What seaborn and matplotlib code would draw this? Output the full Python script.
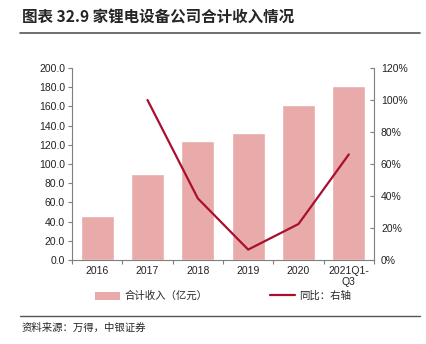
import numpy as np
import pandas as pd
import matplotlib
matplotlib.use("Agg")
import matplotlib.pyplot as plt
from matplotlib.lines import Line2D
from matplotlib.patches import Patch
from matplotlib.ticker import FuncFormatter, FixedLocator
import seaborn as sns

categories = ["2016", "2017", "2018", "2019", "2020", "2021Q1-\nQ3"]
revenue = [45.5, 89.5, 124.0, 132.0, 161.0, 181.5]
yoy = [np.nan, 1.00, 0.385, 0.065, 0.225, 0.66]

bar_color = "#E9AAAA"
line_color = "#A8102E"

sns.set_theme(style="white")
plt.rcParams["font.family"] = ["Liberation Sans", "Noto Sans CJK SC", "DejaVu Sans"]

fig = plt.figure(figsize=(4.27, 3.44), dpi=100)
ax = fig.add_axes([72/427, 1-260/344, (374-72)/427, (260-68)/344])

df = pd.DataFrame({"cat": categories, "rev": revenue, "yoy": yoy, "pos": np.arange(len(categories))})
sns.barplot(data=df, x="cat", y="rev", color=bar_color, saturation=1, width=0.66, ax=ax)
ax.set_xlim(-0.5, len(categories) - 0.5)
ax.set_ylim(0, 200)
ax.set_yticks(np.arange(0, 201, 20))
ax.yaxis.set_major_formatter(FuncFormatter(lambda v, p: f"{v:.1f}"))
ax.set_xlabel("")
ax.set_ylabel("")

ax2 = ax.twinx()
sns.lineplot(data=df.dropna(), x="pos", y="yoy", color=line_color, linewidth=1.6, ax=ax2)
ax2.set_ylim(0, 1.2)
ax2.set_yticks(np.arange(0, 1.21, 0.2))
ax2.yaxis.set_major_formatter(FuncFormatter(lambda v, p: f"{v*100:.0f}%"))
ax2.set_ylabel("")
ax2.set_xlabel("")
ax2.set_xlim(-0.5, len(categories) - 0.5)

spine_color = "#7f7f7f"
for a in (ax, ax2):
    for s in a.spines.values():
        s.set_color(spine_color)
        s.set_linewidth(0.8)
    a.spines["top"].set_visible(False)
ax.spines["right"].set_visible(False)
ax2.spines["left"].set_visible(False)
ax2.spines["bottom"].set_visible(False)

ax.tick_params(axis="y", direction="out", length=3, width=0.8, color=spine_color,
               labelsize=7.5, pad=2, left=True, labelcolor="#222222")
ax2.tick_params(axis="y", direction="in", length=3, width=0.8, color=spine_color,
                labelsize=7.5, pad=5, right=True, labelcolor="#222222")
ax.tick_params(axis="x", length=0, labelsize=7.5, pad=4, labelcolor="#222222")
ax.xaxis.set_minor_locator(FixedLocator(np.arange(-0.5, len(categories), 1.0)))
ax.tick_params(axis="x", which="minor", direction="out", length=3, width=0.8,
               color=spine_color, bottom=True)
for lbl in ax.get_xticklabels():
    lbl.set_linespacing(1.15)

# legend
handles = [Patch(facecolor=bar_color, edgecolor="none"),
           Line2D([0], [0], color=line_color, linewidth=1.6)]
labels = ["合计收入（亿元）", "同比：右轴"]
fig.legend(handles, labels, loc="center left", bbox_to_anchor=(90/427, 1-296/344),
           ncol=2, frameon=False, handlelength=2.4, handleheight=0.8,
           handletextpad=0.4, columnspacing=6.0, borderpad=0,
           prop={"family": ["Noto Sans CJK SC"], "size": 7.5})

# title and rules
fig.text(22/427, 1-18/344, "图表 32.9 家锂电设备公司合计收入情况", fontsize=11.2,
         fontweight="bold", va="center", ha="left",
         family=["Noto Sans CJK SC"])
fig.add_artist(Line2D([20/427, 420/427], [1-33/344, 1-33/344], color="#555555", linewidth=1.2))
fig.add_artist(Line2D([20/427, 420/427], [1-316/344, 1-316/344], color="#555555", linewidth=1.0))
fig.text(22/427, 1-328/344, "资料来源：万得，中银证券", fontsize=7.5, va="center", ha="left",
         family=["Noto Sans CJK SC"])

fig.savefig("out.png", dpi=100)
